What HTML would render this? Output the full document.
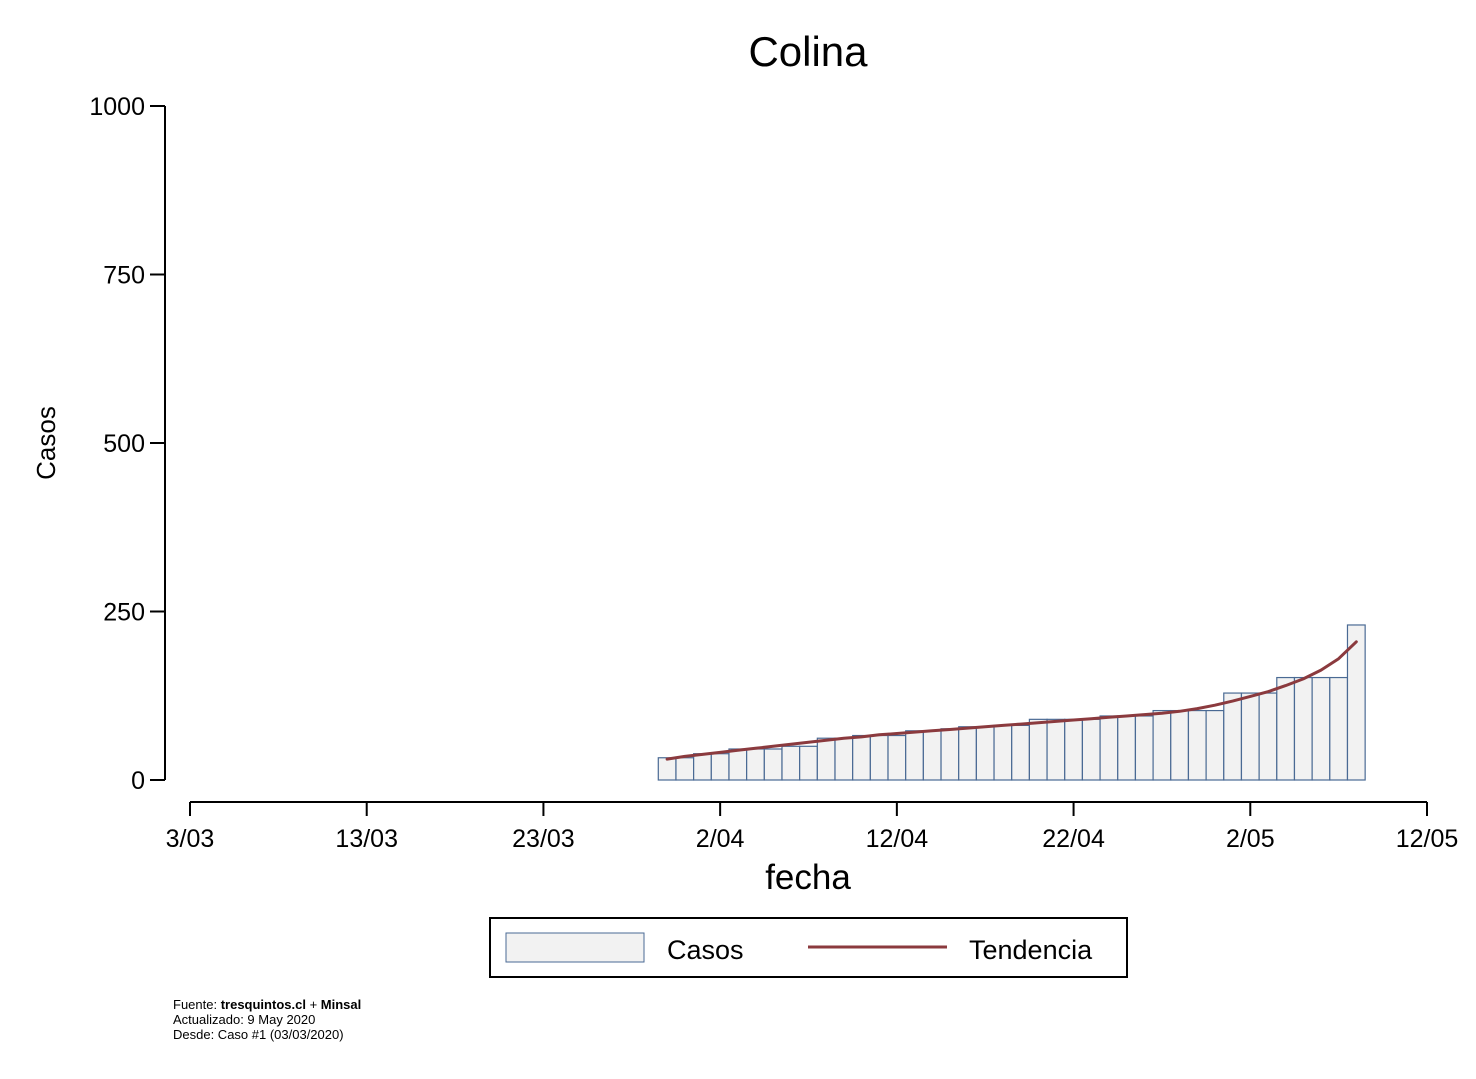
<!DOCTYPE html>
<html><head><meta charset="utf-8"><style>
body{margin:0;background:#fff;font-family:"Liberation Sans",Arial,sans-serif}
svg text{font-family:"Liberation Sans",Arial,sans-serif}
</style></head><body>
<svg width="1476" height="1074" xmlns="http://www.w3.org/2000/svg">
<rect width="1476" height="1074" fill="#fff"/>
<text x="808" y="66" font-size="42" text-anchor="middle">Colina</text>
<g id="yaxis"></g>
<g id="xaxis"></g>
<g id="bars"></g>
<g id="trend"></g>
<text transform="translate(55,443) rotate(-90)" font-size="26" text-anchor="middle">Casos</text>
<text x="808" y="889" font-size="35" text-anchor="middle">fecha</text>
<g>
<rect x="490" y="918" width="637" height="59" fill="#fff" stroke="#000" stroke-width="2"/>
<rect x="506" y="933" width="138" height="29" fill="#f2f2f2" stroke="#4a6a94" stroke-width="1"/>
<text x="667" y="959" font-size="27">Casos</text>
<line x1="808" y1="947" x2="947" y2="947" stroke="#8b3a3e" stroke-width="3"/>
<text x="969" y="959" font-size="27">Tendencia</text>
</g>
<g font-size="13">
<text x="173" y="1009">Fuente: <tspan font-weight="bold">tresquintos.cl</tspan> + <tspan font-weight="bold">Minsal</tspan></text>
<text x="173" y="1024">Actualizado: 9 May 2020</text>
<text x="173" y="1039">Desde: Caso #1  (03/03/2020)</text>
</g>
</svg>
<script>
const startDay = 27;
const casos = [33,33,39,39,46,46,46,50,50,62,62,66,66,66,73,73,76,79,79,81,81,90,90,90,90,95,95,95,103,103,103,103,129,129,129,152,152,152,152,230];
const tendencia = [31,35,38,41,44,47,50,53,56,59,62,64,67,69,71,73,75,77,79,81,83,85,87,89,91,93,95,97,99,102,106,111,117,124,131,140,150,163,180,205];
const yTicks = [0,250,500,750,1000];
const xTickDays = [0,10,20,30,40,50,60,70];
const xTickLabels = ["3/03","13/03","23/03","2/04","12/04","22/04","2/05","12/05"];
const NS="http://www.w3.org/2000/svg";
const y = v => 780 - v*0.674;
const x = d => 190 + d*(1237/70);
const bw = 1237/70;
function mk(tag, attrs, parent){const e=document.createElementNS(NS,tag);for(const k in attrs)e.setAttribute(k,attrs[k]);parent.appendChild(e);return e;}
const ya=document.getElementById('yaxis');
mk('line',{x1:165,y1:y(1000),x2:165,y2:y(0),stroke:'#000','stroke-width':2},ya);
yTicks.forEach(t=>{
  mk('line',{x1:150,y1:y(t),x2:165,y2:y(t),stroke:'#000','stroke-width':2},ya);
  const tx=mk('text',{x:145,y:y(t)+9,'font-size':25,'text-anchor':'end'},ya);
  tx.textContent=t;
  
  
});
const xa=document.getElementById('xaxis');
mk('line',{x1:x(0),y1:802,x2:x(70),y2:802,stroke:'#000','stroke-width':2},xa);
xTickDays.forEach((d,i)=>{
  mk('line',{x1:x(d),y1:802,x2:x(d),y2:816,stroke:'#000','stroke-width':2},xa);
  const tx=mk('text',{x:x(d),y:847,'font-size':25,'text-anchor':'middle'},xa);
  tx.textContent=xTickLabels[i];
  
  
});
const bg=document.getElementById('bars');
casos.forEach((v,i)=>{
  const cx=x(startDay+i);
  const r=mk('rect',{x:cx-bw/2,y:y(v),width:bw,height:y(0)-y(v),fill:'#f2f2f2',stroke:'#4a6a94','stroke-width':1.2},bg);
  
  
});
const tg=document.getElementById('trend');
const pts=tendencia.map((v,i)=>x(startDay+i).toFixed(1)+','+y(v).toFixed(1)).join(' ');
const pl=mk('polyline',{points:pts,fill:'none',stroke:'#8b3a3e','stroke-width':3,'stroke-linejoin':'round','stroke-linecap':'round'},tg);


</script>
</body></html>
